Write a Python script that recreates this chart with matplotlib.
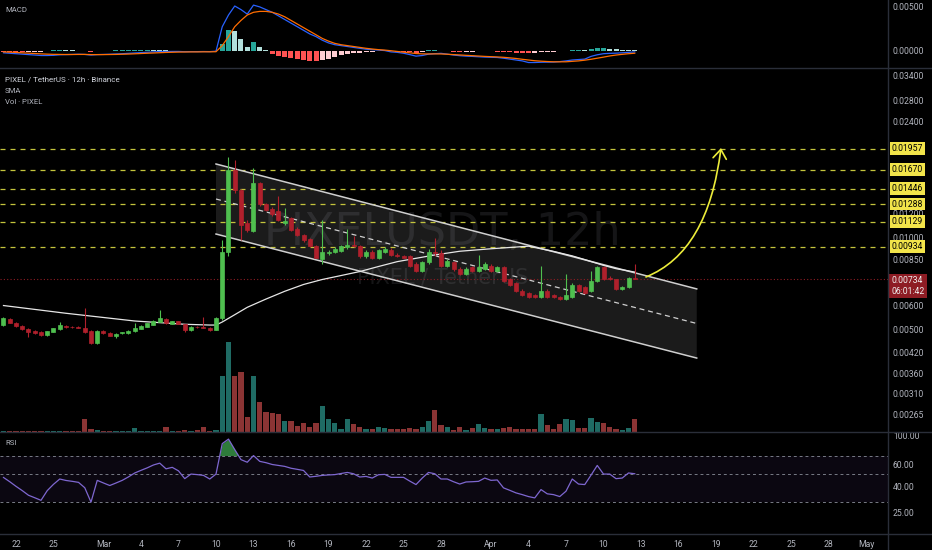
import numpy as np
import pandas as pd
import matplotlib
matplotlib.use('Agg')
import matplotlib.pyplot as plt
import matplotlib.dates as mdates
from matplotlib.path import Path
from matplotlib.patches import FancyArrowPatch, Polygon
from matplotlib.lines import Line2D
from matplotlib.ticker import NullLocator, FixedLocator, FixedFormatter

plt.rcParams['font.family'] = ['Roboto', 'DejaVu Sans']

# ---------------- data ----------------
first_candle = '2025-02-21 00:00'   # 12h candles

opens = [0.00520, 0.00542, 0.00528, 0.00515, 0.00504, 0.00495, 0.00491, 0.00480, 0.00492, 0.00503,
         0.00515, 0.00512, 0.00512, 0.00507, 0.00495, 0.00452, 0.00496, 0.00489, 0.00476, 0.00487,
         0.00487, 0.00494, 0.00504, 0.00512, 0.00520, 0.00532, 0.00542, 0.00524, 0.00533, 0.00521,
         0.00498, 0.00512, 0.00512, 0.00507, 0.00500, 0.00545, 0.00900, 0.01665, 0.01430, 0.01120,
         0.01055, 0.01505, 0.01285, 0.01240, 0.01220, 0.01115, 0.01160, 0.01070, 0.01020, 0.00990,
         0.00940, 0.00850, 0.00890, 0.00900, 0.00905, 0.00930, 0.00950, 0.00940, 0.00870, 0.00900,
         0.00860, 0.00900, 0.00910, 0.00880, 0.00870, 0.00870, 0.00820, 0.00780, 0.00830, 0.00900,
         0.00890, 0.00810, 0.00830, 0.00790, 0.00760, 0.00800, 0.00780, 0.00790, 0.00810, 0.00780,
         0.00800, 0.00730, 0.00710, 0.00670, 0.00660, 0.00650, 0.00640, 0.00670, 0.00650, 0.00640,
         0.00630, 0.00640, 0.00700, 0.00690, 0.00670, 0.00720, 0.00800, 0.00740, 0.00730, 0.00680,
         0.00690, 0.00738]
highs = [0.00552, 0.00548, 0.00532, 0.00518, 0.00508, 0.00498, 0.00494, 0.00497, 0.00508, 0.00530,
         0.00518, 0.00515, 0.00514, 0.00590, 0.00498, 0.00498, 0.00499, 0.00492, 0.00488, 0.00493,
         0.00499, 0.00525, 0.00517, 0.00527, 0.00538, 0.00580, 0.00546, 0.00536, 0.00536, 0.00524,
         0.00514, 0.00515, 0.00550, 0.00510, 0.00552, 0.00980, 0.01840, 0.01800, 0.01440, 0.01140,
         0.01690, 0.01520, 0.01300, 0.01260, 0.01370, 0.01250, 0.01170, 0.01080, 0.01030, 0.01000,
         0.00950, 0.01140, 0.00910, 0.00930, 0.00950, 0.01070, 0.01010, 0.00950, 0.00910, 0.00910,
         0.00920, 0.00930, 0.00925, 0.00890, 0.00880, 0.00875, 0.00830, 0.00840, 0.00920, 0.01000,
         0.00910, 0.00850, 0.00840, 0.00800, 0.00800, 0.00810, 0.00880, 0.00830, 0.00820, 0.00810,
         0.00810, 0.00740, 0.00715, 0.00680, 0.00665, 0.00655, 0.00810, 0.00680, 0.00655, 0.00645,
         0.00760, 0.00710, 0.00705, 0.00695, 0.00780, 0.00810, 0.00810, 0.00750, 0.00735, 0.00695,
         0.00745, 0.00820]
lows = [0.00515, 0.00525, 0.00512, 0.00500, 0.00475, 0.00484, 0.00478, 0.00476, 0.00490, 0.00500,
        0.00508, 0.00507, 0.00505, 0.00487, 0.00448, 0.00450, 0.00485, 0.00476, 0.00470, 0.00484,
        0.00485, 0.00492, 0.00502, 0.00510, 0.00518, 0.00530, 0.00524, 0.00521, 0.00521, 0.00490,
        0.00495, 0.00507, 0.00505, 0.00497, 0.00498, 0.00540, 0.00870, 0.01400, 0.00980, 0.01040,
        0.01040, 0.01270, 0.01220, 0.01180, 0.01130, 0.01100, 0.01050, 0.01010, 0.00970, 0.00935,
        0.00855, 0.00820, 0.00875, 0.00890, 0.00895, 0.00920, 0.00935, 0.00860, 0.00860, 0.00850,
        0.00850, 0.00890, 0.00870, 0.00865, 0.00855, 0.00800, 0.00770, 0.00770, 0.00820, 0.00870,
        0.00800, 0.00800, 0.00780, 0.00755, 0.00755, 0.00775, 0.00775, 0.00785, 0.00775, 0.00775,
        0.00715, 0.00695, 0.00665, 0.00645, 0.00635, 0.00635, 0.00635, 0.00635, 0.00635, 0.00625,
        0.00625, 0.00635, 0.00665, 0.00655, 0.00665, 0.00715, 0.00725, 0.00725, 0.00675, 0.00675,
        0.00685, 0.00730]
closes = [0.00545, 0.00528, 0.00515, 0.00503, 0.00491, 0.00487, 0.00481, 0.00494, 0.00505, 0.00518,
          0.00511, 0.00510, 0.00508, 0.00490, 0.00452, 0.00495, 0.00487, 0.00478, 0.00486, 0.00491,
          0.00497, 0.00508, 0.00515, 0.00525, 0.00536, 0.00545, 0.00527, 0.00534, 0.00524, 0.00500,
          0.00512, 0.00510, 0.00508, 0.00500, 0.00545, 0.00900, 0.01665, 0.01430, 0.01100, 0.01060,
          0.01505, 0.01285, 0.01235, 0.01195, 0.01140, 0.01130, 0.01060, 0.01020, 0.00980, 0.00940,
          0.00860, 0.00900, 0.00900, 0.00920, 0.00940, 0.00950, 0.00940, 0.00870, 0.00900, 0.00860,
          0.00910, 0.00920, 0.00880, 0.00870, 0.00860, 0.00810, 0.00780, 0.00830, 0.00900, 0.00890,
          0.00810, 0.00840, 0.00790, 0.00760, 0.00790, 0.00780, 0.00800, 0.00820, 0.00780, 0.00800,
          0.00720, 0.00700, 0.00670, 0.00650, 0.00640, 0.00640, 0.00670, 0.00640, 0.00640, 0.00630,
          0.00650, 0.00700, 0.00670, 0.00660, 0.00720, 0.00800, 0.00730, 0.00730, 0.00680, 0.00690,
          0.00740, 0.00734]
volumes = [1.0, 1.2, 1.2, 1.3, 1.5, 1.2, 1.2, 1.5, 1.2, 1.5,
           1.3, 1.2, 1.5, 12.7, 2.7, 2.0, 1.5, 1.3, 1.3, 1.5,
           1.5, 4.3, 1.5, 1.5, 1.3, 1.5, 4.7, 1.3, 1.5, 2.0,
           1.5, 2.0, 5.0, 1.5, 2.3, 56, 90, 56, 60, 15,
           56, 29.7, 20.3, 19, 17.7, 11, 11, 6, 9, 5,
           8.7, 26, 12.7, 9.3, 3.3, 13, 7.7, 5.3, 3.3, 3.3,
           4.7, 3.7, 3, 2.7, 2.7, 3.7, 3, 4.7, 11, 21.7,
           7, 5, 2, 4.7, 2, 4, 7.7, 4, 3, 3,
           4, 5.3, 2.7, 2.7, 2.7, 3, 17.7, 7, 3.3, 7.7,
           12.7, 12, 3.7, 4, 14.3, 10, 9.3, 4.7, 3.3, 2,
           4, 13]
rsi_vals = [47, 43.5, 40, 37, 34, 32.5, 31, 37, 41.5, 45.7,
            44.5, 43.8, 43, 39, 30, 44.6, 42.5, 40.6, 42.5, 44.6,
            47.5, 51, 53.5, 56, 59, 61, 55, 56.5, 53, 46,
            50, 49.5, 48.8, 45.7, 50, 87, 94.5, 78, 65, 62,
            70, 63, 61.5, 59.5, 58.5, 57.5, 55.6, 54.5, 53.4, 47.4,
            48, 48.8, 49.2, 49.5, 50.5, 51.5, 50.3, 47.4, 47.9, 46.5,
            49.4, 49.7, 47.1, 47.1, 47.1, 44, 41.3, 46.5, 51.5, 50.3,
            45.7, 45.7, 43.5, 41.7, 43.3, 43.5, 43.8, 46.5, 44.6, 44.9,
            38.9, 37.2, 35.5, 34.4, 33.2, 32.4, 37.7, 34.9, 34.4, 33.2,
            36.6, 45.7, 41.7, 41.3, 49, 58.5, 50, 50, 46, 46.5,
            51, 50.3]
macd_vals = [-0.0002, -0.00025, -0.0003, -0.00035, -0.0004, -0.00045, -0.0005, -0.0005, -0.00048, -0.00042,
             -0.0004, -0.00038, -0.00036, -0.00038, -0.00045, -0.0004, -0.00038, -0.00036, -0.00033, -0.0003,
             -0.00026, -0.00022, -0.00018, -0.00014, -0.0001, -0.00006, -0.00006, -0.00005, -0.00005, -0.00008,
             -0.00007, -0.00007, -0.00006, -0.00007, -0.00002, 0.0027, 0.0040, 0.0050, 0.0046, 0.0041,
             0.0051, 0.0049, 0.0046, 0.0043, 0.0039, 0.0035, 0.0031, 0.0027, 0.0023, 0.0019,
             0.0016, 0.0012, 0.0009, 0.0007, 0.0006, 0.0005, 0.0004, 0.0003, 0.0002, 0.00015,
             0.0001, 0.00005, -0.0001, -0.00015, -0.00025, -0.0004, -0.00057, -0.0005, -0.00035, -0.0003,
             -0.00026, -0.00035, -0.00045, -0.00052, -0.00057, -0.0006, -0.00064, -0.00068, -0.0007, -0.00072,
             -0.0008, -0.0009, -0.001, -0.0011, -0.00128, -0.00128, -0.00125, -0.00124, -0.00123, -0.00118,
             -0.0011, -0.001, -0.00095, -0.0009, -0.0006, -0.00042, -0.0003, -0.00026, -0.00024, -0.0002,
             -0.00015, -0.0001]
signal_vals = [-0.0001, -0.00013, -0.00016, -0.0002, -0.00024, -0.00028, -0.00032, -0.00035, -0.00037, -0.00038,
               -0.00039, -0.00039, -0.00038, -0.00038, -0.0004, -0.0004, -0.0004, -0.00039, -0.00038, -0.00036,
               -0.00034, -0.00031, -0.00028, -0.00025, -0.00022, -0.00019, -0.00016, -0.00014, -0.00012, -0.00011,
               -0.0001, -0.0001, -0.00009, -0.00009, -0.00008, 0.0006, 0.0016, 0.0027, 0.0034, 0.0040,
               0.0043, 0.0044, 0.0044, 0.0043, 0.0041, 0.0038, 0.0034, 0.0030, 0.0026, 0.0022,
               0.0018, 0.0014, 0.0011, 0.00085, 0.0007, 0.0006, 0.0005, 0.0004, 0.0003, 0.00022,
               0.00015, 0.0001, 0.00003, -0.00005, -0.00013, -0.0002, -0.00028, -0.00032, -0.00033, -0.00032,
               -0.00033, -0.00036, -0.0004, -0.00044, -0.00048, -0.00052, -0.00056, -0.0006, -0.00063, -0.00066,
               -0.0007, -0.00076, -0.00083, -0.00092, -0.001, -0.00108, -0.00113, -0.00117, -0.0012, -0.0012,
               -0.0012, -0.00115, -0.0011, -0.00102, -0.00092, -0.0008, -0.00068, -0.00055, -0.00045, -0.00037,
               -0.0003, -0.00025]
hist_vals = [-0.00008, -0.0001, -0.00012, -0.00012, -0.0001, -0.00008, -0.00006, 0.00004, 0.00008, 0.0001,
             0.00008, 0.00006, 0.00004, -0.00002, -0.00006, 0.00002, 0.00004, 0.00005, 0.00006, 0.00007,
             0.00008, 0.0001, 0.00012, 0.00014, 0.00013, 0.0001, 0.00008, 0.00005, 0.00003, -0.00002,
             0.00001, 0.00002, 0.00001, -0.00002, 0.00005, 0.0008, 0.0023, 0.0022, 0.0013, 0.0005,
             0.00095, 0.0005, 0.0001, -0.00034, -0.00057, -0.00072, -0.00083, -0.00094, -0.00102, -0.00106,
             -0.00106, -0.001, -0.00085, -0.00068, -0.0005, -0.00035, -0.00025, -0.00017, -0.00012, -0.00008,
             -0.00004, 0.00002, -0.00003, -0.00006, -0.0001, -0.00015, -0.0002, -0.00012, 0.0001, 0.00012,
             0.00005, -0.00003, -0.00006, -0.0001, -0.00008, -0.00006, -0.00005, -0.00004, -0.00005, -0.00008,
             -0.00012, -0.00015, -0.00018, -0.0002, -0.0002, -0.00018, -0.0001, -0.00008, -0.00006, -0.00003,
             0.00003, 0.00012, 0.00015, 0.00014, 0.0002, 0.0003, 0.0003, 0.00025, 0.0002, 0.00015,
             0.00012, 0.0001]

sma_times = ['2025-02-21 00:00', '2025-02-26 00:00', '2025-03-03 12:00', '2025-03-07 12:00',
             '2025-03-09 12:00', '2025-03-10 00:00', '2025-03-10 12:00', '2025-03-11 12:00',
             '2025-03-12 12:00', '2025-03-14 00:00', '2025-03-15 12:00', '2025-03-17 00:00',
             '2025-03-18 12:00', '2025-03-20 00:00', '2025-03-21 12:00', '2025-03-23 00:00',
             '2025-03-24 12:00', '2025-03-27 12:00', '2025-03-29 12:00', '2025-04-01 00:00',
             '2025-04-04 00:00', '2025-04-06 00:00', '2025-04-07 12:00', '2025-04-08 12:00',
             '2025-04-10 00:00', '2025-04-11 00:00', '2025-04-12 12:00']
sma_vals = [0.00600, 0.00566, 0.00534, 0.00521, 0.00518, 0.00518, 0.00530, 0.00560,
            0.00592, 0.00630, 0.00668, 0.00703, 0.00730, 0.00752, 0.00775, 0.00805,
            0.00835, 0.00878, 0.00903, 0.00920, 0.00938, 0.00902, 0.00872, 0.00848,
            0.00812, 0.00792, 0.00772]

level_prices = [0.01957, 0.01670, 0.01446, 0.01288, 0.01129, 0.00934]
last_price = 0.00734
countdown = '06:01:42'
price_ticks = [0.034, 0.028, 0.024, 0.012, 0.010, 0.0085, 0.006, 0.005, 0.0042, 0.0036, 0.0031, 0.00265]
macd_ticks = [0.005, 0.0]
rsi_ticks = [100, 60, 40, 25]
rsi_levels = [70, 50, 30]

channel_times = ['2025-03-10 00:00', '2025-04-17 11:00']
channel_upper = [0.01742, 0.00680]
channel_lower = [0.01028, 0.00404]

arrow_times = ['2025-04-13 09:36', '2025-04-18 08:40', '2025-04-19 09:36']
arrow_prices = [0.00744, 0.00898, 0.01965]

date_ticks = ['2025-02-22', '2025-02-25', '2025-03-01', '2025-03-04', '2025-03-07', '2025-03-10',
              '2025-03-13', '2025-03-16', '2025-03-19', '2025-03-22', '2025-03-25', '2025-03-28',
              '2025-04-01', '2025-04-04', '2025-04-07', '2025-04-10', '2025-04-13', '2025-04-16',
              '2025-04-19', '2025-04-22', '2025-04-25', '2025-04-28', '2025-05-01']
view_start, view_end = '2025-02-20 17:17', '2025-05-02 18:14'

# ---------------- styles ----------------
BG = '#000000'
TXT = '#b2b5be'
SEP = '#2a2e39'
UP, DN = '#4fbf4f', '#b0202c'
VUP, VDN = '#1f6b64', '#8b3434'
FS = 6.2

W, H = 932, 550
PW = 888  # plot width in px
fig = plt.figure(figsize=(W / 100, H / 100), dpi=100, facecolor=BG)


def rect(top, bottom):
    return [0, 1 - bottom / H, PW / W, (bottom - top) / H]


ax_macd = fig.add_axes(rect(0, 68), facecolor=BG)
ax_vol = fig.add_axes(rect(68, 432), facecolor=BG)
ax = fig.add_axes(rect(68, 432), facecolor='none')
ax_rsi = fig.add_axes(rect(432, 534), facecolor=BG)
ax_vol.set_zorder(0)
ax.set_zorder(1)

t = pd.date_range(first_candle, periods=len(closes), freq='12h')
x = mdates.date2num(t.to_pydatetime())
o, hi, lo, c = map(np.array, (opens, highs, lows, closes))
up = c >= o
ccol = np.where(up, UP, DN)
vcol = np.where(up, VUP, VDN)
xl = (mdates.date2num(pd.Timestamp(view_start)), mdates.date2num(pd.Timestamp(view_end)))

for a in (ax_macd, ax_vol, ax, ax_rsi):
    a.set_xlim(*xl)
    for s in a.spines.values():
        s.set_visible(False)
    a.tick_params(axis='both', length=0, labelsize=FS, labelcolor=TXT)
    a.set_xticks([])

# ---- MACD ----
hv = np.array(hist_vals)
hcol = []
for i, h in enumerate(hv):
    prev = hv[i - 1] if i > 0 else h
    if h >= 0:
        hcol.append('#26a69a' if h >= prev else '#b2dfdb')
    else:
        hcol.append('#ff5252' if h <= prev else '#ffcdd2')
ax_macd.bar(x, hv, width=0.4, color=hcol, zorder=2)
ax_macd.plot(x, macd_vals, color='#2962ff', lw=0.9, zorder=3)
ax_macd.plot(x, signal_vals, color='#ff6d00', lw=0.9, zorder=3)
ax_macd.set_ylim(-0.001889, 0.005667)
ax_macd.yaxis.tick_right()
ax_macd.set_yticks(macd_ticks)
ax_macd.set_yticklabels([f'{v:.5f}' for v in macd_ticks])
ax_macd.tick_params(axis='y', pad=3.5)
ax_macd.text(5 / PW, 1 - 10 / 68, 'MACD', transform=ax_macd.transAxes, fontsize=5.6,
             color=TXT, va='center', ha='left')

# ---- Volume (behind price) ----
ax_vol.bar(x, volumes, width=0.42, color=vcol, zorder=2)
ax_vol.set_ylim(0, max(volumes) * 364 / 90)
ax_vol.set_yticks([])

# ---- Price ----
ax.set_yscale('log')
ax.set_ylim(0.002315, 0.03589)
ax.yaxis.tick_right()
ax.yaxis.set_minor_locator(NullLocator())
ax.yaxis.set_major_locator(FixedLocator(price_ticks))
ax.yaxis.set_major_formatter(FixedFormatter([f'{v:.5f}' for v in price_ticks]))
ax.tick_params(axis='y', pad=3.5)

# watermark
ax.text(0.498, 0.548, 'PIXELUSDT, 12h', transform=ax.transAxes, ha='center', va='center',
        fontsize=32, color='#b2b5be', alpha=0.12, zorder=0.5, family='DejaVu Sans')
ax.text(0.499, 0.424, 'PIXEL / TetherUS', transform=ax.transAxes, ha='center', va='center',
        fontsize=15, color='#b2b5be', alpha=0.12, zorder=0.5, family='DejaVu Sans')

# channel
cx = mdates.date2num([pd.Timestamp(s) for s in channel_times])
cu, cl = np.array(channel_upper), np.array(channel_lower)
cm = np.sqrt(cu * cl)
poly = Polygon([(cx[0], cu[0]), (cx[1], cu[1]), (cx[1], cl[1]), (cx[0], cl[0])],
               closed=True, facecolor='#ffffff', alpha=0.11, edgecolor='none', zorder=1)
ax.add_patch(poly)
ax.plot(cx, cu, color='#cfcfcf', lw=1.1, zorder=2)
ax.plot(cx, cl, color='#cfcfcf', lw=1.1, zorder=2)
ax.plot(cx, cm, color='#cfcfcf', lw=0.9, ls=(0, (4, 3)), zorder=2)

# horizontal levels
for lv in level_prices:
    ax.axhline(lv, color='#c4c43c', lw=0.9, ls=(0, (4, 4)), zorder=1.5)
ax.axhline(last_price, color='#8e1c24', lw=0.8, ls=(0, (1, 2)), zorder=1.5)

# SMA
sx = mdates.date2num([pd.Timestamp(s) for s in sma_times])
ax.plot(sx, sma_vals, color='#e6e6e6', lw=0.9, zorder=2.5)

# candles
ax.vlines(x, lo, hi, colors=ccol, lw=0.8, zorder=3)
ax.bar(x, np.abs(c - o), width=0.32, bottom=np.minimum(o, c), color=ccol,
       edgecolor=ccol, lw=0.5, zorder=4)

# arrow
ax_x = mdates.date2num([pd.Timestamp(s) for s in arrow_times])
apath = Path(list(zip(ax_x, arrow_prices)), [Path.MOVETO, Path.CURVE3, Path.CURVE3])
arr = FancyArrowPatch(path=apath, arrowstyle='->,head_length=0.55,head_width=0.4',
                      mutation_scale=12, color='#ecec3a', lw=1.2, zorder=5,
                      transform=ax.transData)
ax.add_patch(arr)

# price labels (boxes)
for lv in level_prices:
    ax.annotate(f'{lv:.5f}', xy=(1, lv), xycoords=('axes fraction', 'data'),
                xytext=(2.6, 0), textcoords='offset points', ha='left', va='center',
                fontsize=FS, color='#000000', annotation_clip=False, zorder=10,
                bbox=dict(boxstyle='square,pad=0.22', fc='#f2e44a', ec='none'))
ax.annotate(f'{last_price:.5f}\n{countdown}', xy=(1, last_price), xycoords=('axes fraction', 'data'),
            xytext=(2.6, -5.2), textcoords='offset points', ha='left', va='center',
            fontsize=FS, color='#f0f0f0', annotation_clip=False, zorder=10, linespacing=1.25,
            bbox=dict(boxstyle='square,pad=0.25', fc='#8e1c24', ec='none'))

# legend texts
fig.text(5 / W, 1 - 80 / H, 'PIXEL / TetherUS · 12h · Binance', fontsize=5.8, color='#d1d4dc',
         va='center', ha='left')
fig.text(5 / W, 1 - 91 / H, 'SMA', fontsize=5.6, color=TXT, va='center', ha='left')
fig.text(5 / W, 1 - 102 / H, 'Vol · PIXEL', fontsize=5.6, color=TXT, va='center', ha='left')

# ---- RSI ----
ax_rsi.set_yscale('log')
ax_rsi.set_ylim(16.8, 107.5)
ax_rsi.axhspan(30, 70, color='#7e57c2', alpha=0.09, lw=0, zorder=0)
for lv in rsi_levels:
    ax_rsi.axhline(lv, color='#787b86', lw=0.7, ls=(0, (3, 3)), zorder=1)
rv = np.array(rsi_vals, dtype=float)
ax_rsi.fill_between(x, 70, rv, where=rv > 70, interpolate=True, color='#3a9b4a', alpha=0.8, lw=0, zorder=2)
ax_rsi.plot(x, rv, color='#7e67d0', lw=0.9, zorder=3)
ax_rsi.yaxis.tick_right()
ax_rsi.yaxis.set_minor_locator(NullLocator())
ax_rsi.yaxis.set_major_locator(FixedLocator(rsi_ticks))
ax_rsi.yaxis.set_major_formatter(FixedFormatter([f'{v:.2f}' for v in rsi_ticks]))
ax_rsi.tick_params(axis='y', pad=3.5)
ax_rsi.text(5 / PW, 1 - 11 / 102, 'RSI', transform=ax_rsi.transAxes, fontsize=5.6,
            color=TXT, va='center', ha='left')

dts = [pd.Timestamp(s) for s in date_ticks]
ax_rsi.set_xticks(mdates.date2num(dts))
ax_rsi.set_xticklabels([d.strftime('%b') if d.day == 1 else str(d.day) for d in dts])
ax_rsi.tick_params(axis='x', pad=4, labelsize=FS, labelcolor=TXT)
ax_rsi.set_xlim(*xl)

# separators
for yy in (68, 432, 534):
    fig.add_artist(Line2D([0, 1], [1 - yy / H, 1 - yy / H], transform=fig.transFigure, color=SEP, lw=1))
fig.add_artist(Line2D([PW / W, PW / W], [0, 1], transform=fig.transFigure, color=SEP, lw=1))

fig.savefig('out.png', dpi=100, facecolor=BG)
